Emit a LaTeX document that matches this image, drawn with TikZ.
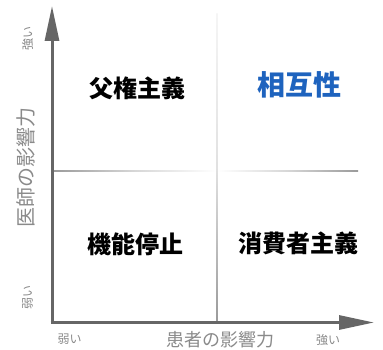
\documentclass[tikz,border=0pt]{standalone}
\usepackage{fontspec}
\usetikzlibrary{arrows.meta}
\newfontfamily\jp{Noto Sans CJK JP}
\definecolor{axisgray}{HTML}{666666}
\definecolor{labelgray}{HTML}{8A8A8A}
\definecolor{midgray}{HTML}{9A9A9A}
\definecolor{quadblue}{HTML}{1E63BE}
\tikzset{
  axisline/.style={draw=axisgray, line width=3pt, -{Triangle[length=35pt,width=14pt]}},
  quad/.style={font=\jp\bfseries\fontsize{24}{28}\selectfont, text=black, inner sep=0pt},
  axislabel/.style={font=\jp\fontsize{#1}{#1}\selectfont, text=labelgray, inner sep=0pt},
  small/.style={font=\jp\fontsize{12}{13}\selectfont, text=labelgray, inner sep=0pt}
}
\begin{document}
\begin{tikzpicture}[x=1pt,y=-1pt]
\useasboundingbox[fill=white] (0,0) rectangle (383,350);
% grid lines with fades
\shade[left color=midgray, right color=white, middle color=midgray!40] (52,170.4) rectangle (217,171.6);
\shade[left color=white, right color=midgray, middle color=midgray!40] (217,170.4) rectangle (358,171.6);
\shade[top color=white!90!midgray, bottom color=midgray, middle color=midgray!30] (216.4,14) rectangle (217.6,322);
% axes
\coordinate (O) at (52,322.5);
\coordinate (ytip) at (52,6);
\coordinate (xtip) at (374,322.5);
\draw[axisline] ([yshift=1.5pt]O) -- (ytip);
\draw[axisline] ([xshift=-1.5pt]O) -- (xtip);
% quadrant labels
\node[quad] (q1) at (137,88) {父権主義};
\node[quad, text=quadblue, font=\jp\bfseries\fontsize{28}{32}\selectfont] (q2) at (299,85) {相互性};
\node[quad] (q3) at (135,244) {機能停止};
\node[quad] (q4) at (298,243) {消費者主義};
% axis labels
\node[axislabel=20, rotate=90] (ylab) at (26,167) {医師の影響力};
\node[axislabel=18] (xlab) at (220.5,339.5) {患者の影響力};
\node[small, rotate=90] (ystrong) at (27.5,38.5) {強い};
\node[small, rotate=90] (yweak) at (27.5,297.5) {弱い};
\node[small] (xweak) at (69.5,339) {弱い};
\node[small] (xstrong) at (328,339.5) {強い};
\end{tikzpicture}
\end{document}
